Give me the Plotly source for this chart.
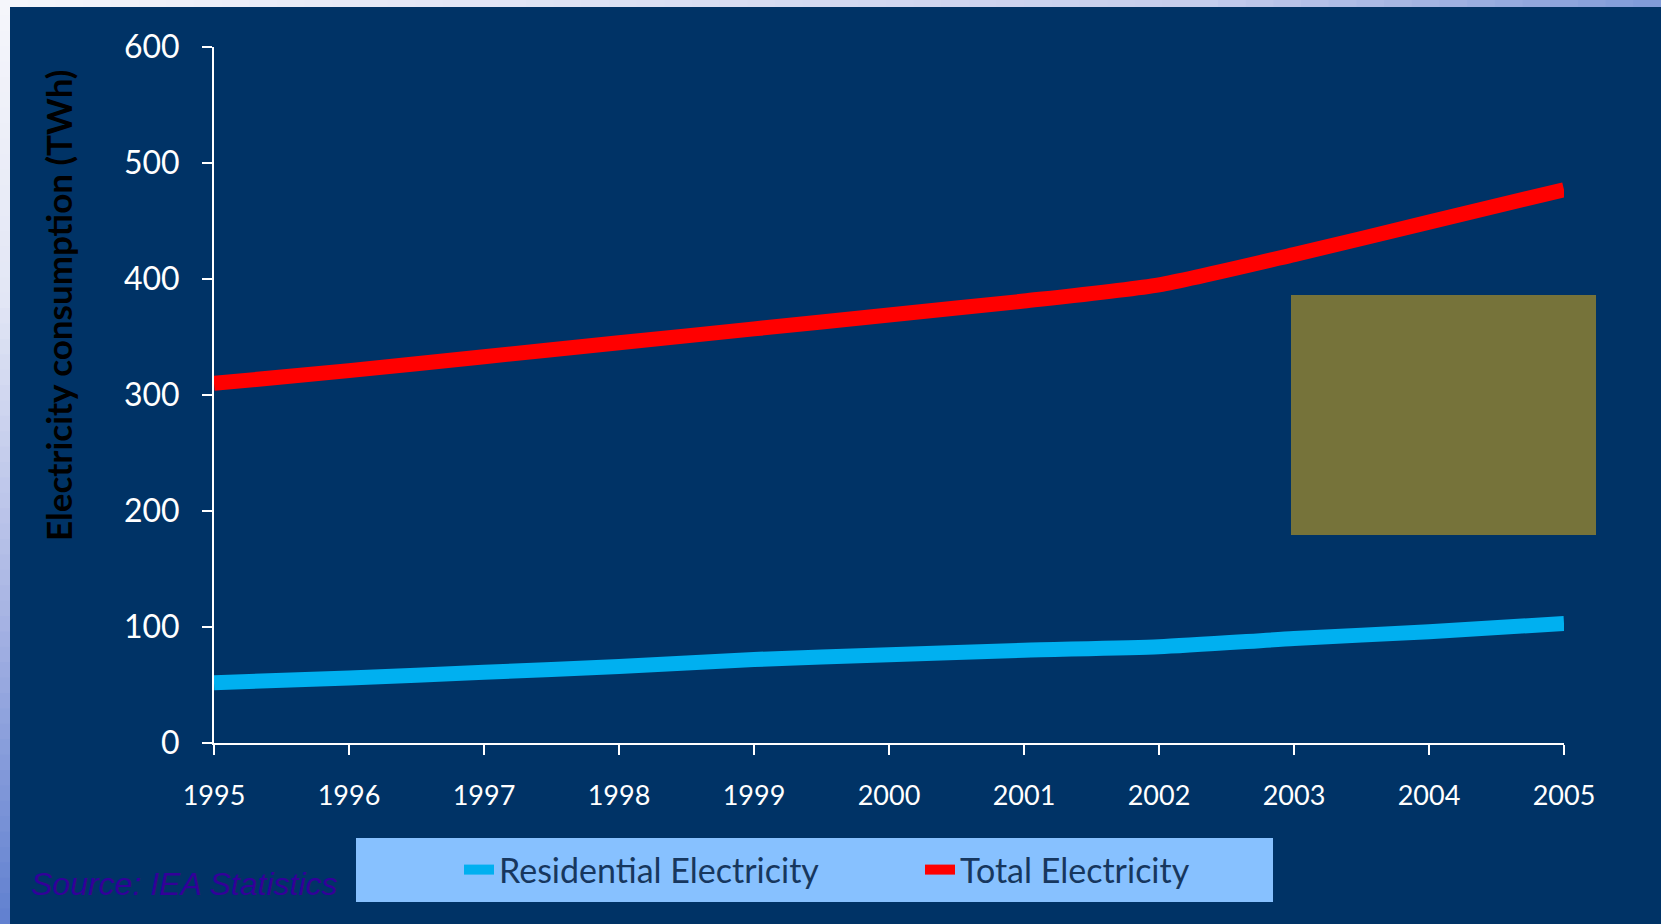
import numpy as np
import plotly.graph_objects as go

years = [1995, 1996, 1997, 1998, 1999, 2000, 2001, 2002, 2003, 2004, 2005]
residential = [52, 56, 61, 66, 72, 76, 80, 83, 90, 96, 103]
total = [310, 321, 333, 345, 357, 369, 381, 395, 421, 449, 477]
y_ticks = [0, 100, 200, 300, 400, 500, 600]

W, H = 1661, 924
L, R, T, B = 214, 97, 47, 181
PW, PH = W - L - R, H - T - B


def px(x):
    return (x - L) / PW


def py(y):
    return (H - B - y) / PH


def hexrgb(h):
    h = h.lstrip('#')
    return np.array([int(h[i:i + 2], 16) for i in (0, 2, 4)], dtype=float)


def interp_color(pos, stops):
    ps = [s[0] for s in stops]
    cs = np.array([hexrgb(s[1]) for s in stops])
    c = [np.interp(pos, ps, cs[:, k]) for k in range(3)]
    return 'rgb(%d,%d,%d)' % tuple(int(round(v)) for v in c)


fig = go.Figure()
fig.add_trace(go.Scatter(x=years, y=residential, name='Residential Electricity',
                         mode='lines', line=dict(color='#00B0F0', width=15, shape='spline', smoothing=0.6)))
fig.add_trace(go.Scatter(x=years, y=total, name='Total Electricity',
                         mode='lines', line=dict(color='#FF0000', width=15, shape='spline', smoothing=0.6)))

shapes = []
# gradient frame strips (decoration)
top_stops = [(0, '#f5f6fb'), (1200, '#c5cdec'), (1661, '#7f9ad8')]
n = 60
for i in range(n):
    x0 = W * i / n
    x1 = W * (i + 1) / n
    shapes.append(dict(type='rect', xref='paper', yref='paper', layer='below',
                       x0=px(x0), x1=px(x1 + 2), y0=py(7), y1=py(-2),
                       fillcolor=interp_color((x0 + x1) / 2, top_stops), line=dict(width=0)))
left_stops = [(0, '#f5f6fb'), (300, '#e2e6f5'), (600, '#aab6e4'), (924, '#6080d0')]
for i in range(n):
    y0 = H * i / n
    y1 = H * (i + 1) / n
    shapes.append(dict(type='rect', xref='paper', yref='paper', layer='below',
                       x0=px(-2), x1=px(10), y0=py(y1 + 2), y1=py(y0),
                       fillcolor=interp_color((y0 + y1) / 2, left_stops), line=dict(width=0)))
# textured box (decoration)
shapes.append(dict(type='rect', xref='paper', yref='paper', layer='below',
                   x0=px(1291), x1=px(1596), y0=py(535), y1=py(295),
                   fillcolor='#76733a', line=dict(width=0)))
# legend box
shapes.append(dict(type='rect', xref='paper', yref='paper', layer='below',
                   x0=px(356), x1=px(1273), y0=py(902), y1=py(838),
                   fillcolor='#87C1FF', line=dict(width=0)))

fig.update_layout(
    width=W, height=H,
    margin=dict(l=L, r=R, t=T, b=B, pad=0),
    paper_bgcolor='#003366', plot_bgcolor='#003366',
    shapes=shapes,
    showlegend=True,
    hovermode=False,
    legend=dict(orientation='h', x=px(459), y=py(870), xanchor='left', yanchor='middle',
                bgcolor='rgba(0,0,0,0)', font=dict(family='Lato', size=34, color='#17375E'),
                entrywidth=416, entrywidthmode='pixels', itemclick=False),
    xaxis=dict(range=[1995, 2005], tickvals=years, ticktext=[str(y) for y in years],
               showgrid=False, zeroline=False, showline=True, linecolor='white', linewidth=2,
               ticks='outside', ticklen=10, tickwidth=2, tickcolor='white',
               tickfont=dict(family='Lato', size=27, color='white'), ticklabelstandoff=18),
    yaxis=dict(range=[0, 600], tickvals=y_ticks, showgrid=False, zeroline=False,
               showline=True, linecolor='white', linewidth=2,
               ticks='outside', ticklen=10, tickwidth=2, tickcolor='white',
               tickfont=dict(family='Lato', size=32, color='white'), ticklabelstandoff=16),
    annotations=[
        dict(text='<b>Electricity consumption (TWh)</b>', xref='paper', yref='paper',
             x=px(58), y=py(306), xanchor='center', yanchor='middle', textangle=-90,
             showarrow=False, font=dict(family='Lato', size=35, color='black')),
        dict(text='<i>Source: IEA Statistics</i>', xref='paper', yref='paper',
             x=px(29), y=py(884), xanchor='left', yanchor='middle', showarrow=False,
             font=dict(family='Liberation Sans', size=32, color='#330099')),
    ],
)

fig.write_html('out.html', config={'displayModeBar': False, 'staticPlot': False},
               post_script="document.body.style.margin='0px';document.body.style.overflow='hidden';")
